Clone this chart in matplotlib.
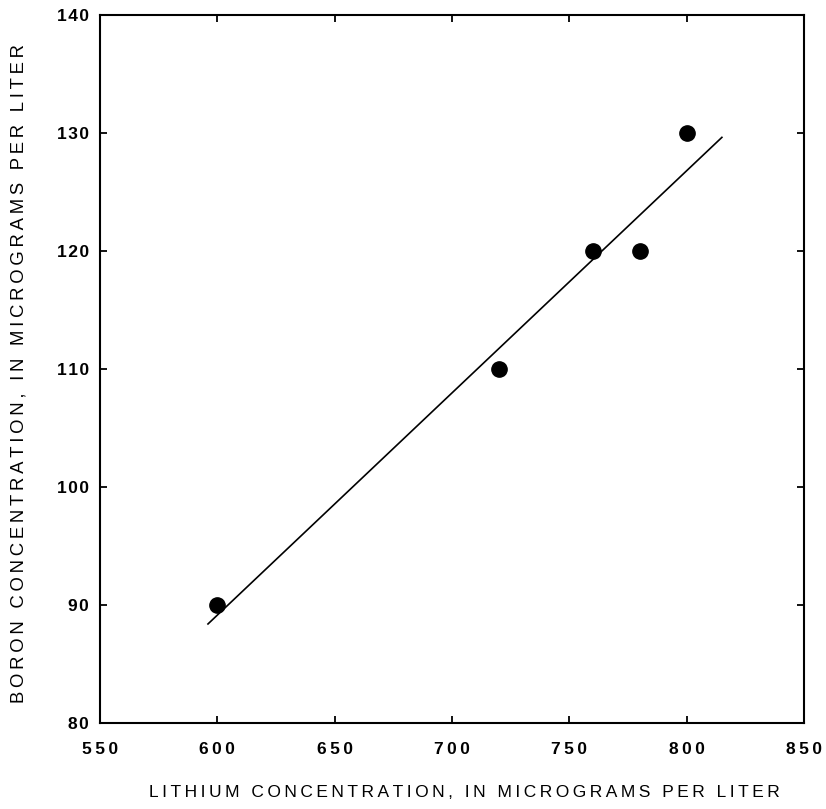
import numpy as np
import matplotlib
matplotlib.use("Agg")
import matplotlib.pyplot as plt
from matplotlib.ticker import FuncFormatter

# lithium vs boron samples
lithium = [600, 720, 760, 780, 800]
boron = [90, 110, 120, 120, 130]
fit_range = [596, 815]

xticks = [550, 600, 650, 700, 750, 800, 850]
yticks = [80, 90, 100, 110, 120, 130, 140]

xlabel = 'LITHIUM CONCENTRATION, IN MICROGRAMS PER LITER'
ylabel = 'BORON CONCENTRATION, IN MICROGRAMS PER LITER'

plt.rcParams['font.family'] = ['Liberation Sans', 'DejaVu Sans']

THIN = '\u2009'
HAIR = '\u200a'


def spaced(s, sep):
    return sep.join(s)


fig = plt.figure(figsize=(8.26, 8.09), dpi=100)
ax = fig.add_axes([0.1211, 0.1063, 0.8523, 0.8752])

slope, icpt = np.polyfit(lithium, boron, 1)
fx = np.array(fit_range)
ax.plot(fx, slope * fx + icpt, color='black', lw=1.2)
ax.plot(lithium, boron, 'o', color='black', ms=11)

ax.set_xlim(550, 850)
ax.set_ylim(80, 140)
ax.set_xticks(xticks)
ax.set_yticks(yticks)
ax.xaxis.set_major_formatter(FuncFormatter(lambda v, p: spaced('%d' % v, THIN)))
ax.yaxis.set_major_formatter(FuncFormatter(lambda v, p: spaced('%d' % v, HAIR)))
for s in ax.spines.values():
    s.set_linewidth(1.5)
ax.tick_params(direction='in', length=5, width=1.3, top=True, right=True,
               labelsize=12.5)
ax.tick_params(axis='x', pad=14)
ax.tick_params(axis='y', pad=8)
for lab in ax.get_xticklabels() + ax.get_yticklabels():
    lab.set_fontweight('bold')

ax.set_xlabel(spaced(xlabel, THIN), fontsize=12.5)
ax.set_ylabel(spaced(ylabel, THIN), fontsize=13.3)
ax.xaxis.set_label_coords(0.518, -0.0876)
ax.yaxis.set_label_coords(-0.1037, 0.493)

fig.savefig('out.png', dpi=100)
